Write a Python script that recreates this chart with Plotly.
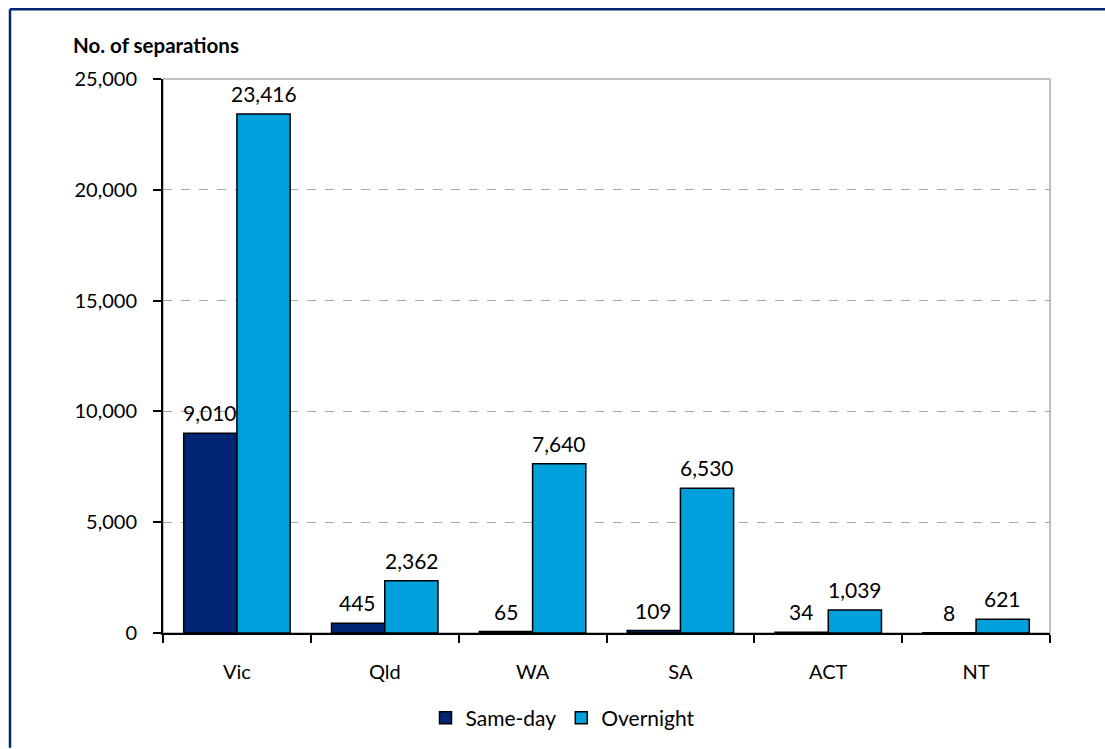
import plotly.graph_objects as go

# Separations by state/territory, split by same-day and overnight stays
states = ["Vic", "Qld", "WA", "SA", "ACT", "NT"]
same_day = [9010, 445, 65, 109, 34, 8]
overnight = [23416, 2362, 7640, 6530, 1039, 621]
y_ticks = [0, 5000, 10000, 15000, 20000, 25000]

FONT = "Lato, 'Open Sans', sans-serif"
NAVY = "#002673"
CYAN = "#00A0DC"

W, H = 1105, 749
L, R, T, B = 163, 55, 79, 115
pw, ph = W - L - R, H - T - B

fig = go.Figure()
fig.add_trace(go.Bar(
    name="Same-day", x=states, y=same_day,
    marker=dict(color=NAVY, line=dict(color="#000000", width=1.5)),
))
fig.add_trace(go.Bar(
    name="Overnight", x=states, y=overnight,
    marker=dict(color=CYAN, line=dict(color="#000000", width=1.5)),
))

# value labels above each bar
for i, s in enumerate(states):
    for val, off in ((same_day[i], -0.182), (overnight[i], 0.182)):
        fig.add_annotation(
            x=i + off, y=val, xref="x", yref="y",
            text=f"{val:,}", showarrow=False, yanchor="bottom", yshift=6,
            font=dict(family=FONT, size=21, color="#000000"),
        )

# axis title at top-left
fig.add_annotation(
    x=(71 - L) / pw, y=(H - B - 45) / ph, xref="paper", yref="paper",
    text="<b>No. of separations</b>", showarrow=False,
    xanchor="left", yanchor="middle",
    font=dict(family=FONT, size=20.5, color="#000000"),
)

# frame: gray plot border (top/right)
fig.add_shape(type="rect", xref="paper", yref="paper", x0=0, x1=1, y0=0, y1=1,
              line=dict(color="#BFBFBF", width=2), layer="below")
# outer navy border: only its top and left edges fall inside the page
x_left = (10 - L) / pw
y_top = (H - B - 9) / ph
fig.add_shape(type="line", xref="paper", yref="paper",
              x0=x_left, x1=(W - L) / pw, y0=y_top, y1=y_top,
              line=dict(color=NAVY, width=2.5))
fig.add_shape(type="line", xref="paper", yref="paper",
              x0=x_left, x1=x_left, y0=y_top, y1=(H - B - H) / ph,
              line=dict(color=NAVY, width=2.5))

fig.update_layout(
    width=W, height=H,
    margin=dict(l=L, r=R, t=T, b=B),
    paper_bgcolor="white", plot_bgcolor="white",
    barmode="group", bargap=0.28, bargroupgap=0,
    font=dict(family=FONT, size=20, color="#000000"),
    showlegend=True,
    legend=dict(orientation="h", x=(563 - L) / pw, xanchor="center",
                y=(H - B - 718) / ph, yanchor="middle",
                font=dict(family=FONT, size=21), itemwidth=30,
                traceorder="normal"),
)
fig.update_xaxes(
    showline=True, linecolor="#000000", linewidth=2,
    ticks="outside", ticklen=8, tickwidth=2, tickcolor="#000000",
    tickson="boundaries", showgrid=False, ticklabelstandoff=20,
    range=[-0.5, 5.5],
)
fig.update_yaxes(
    range=[0, 25000], tickvals=y_ticks,
    ticktext=[f"{v:,}" for v in y_ticks],
    showline=True, linecolor="#000000", linewidth=2,
    ticks="outside", ticklen=8, tickwidth=2, tickcolor="#000000",
    ticklabelstandoff=12,
    showgrid=True, gridcolor="#A6A6A6", griddash="dash", gridwidth=1,
    zeroline=False,
)

fig.write_html("out.html")
